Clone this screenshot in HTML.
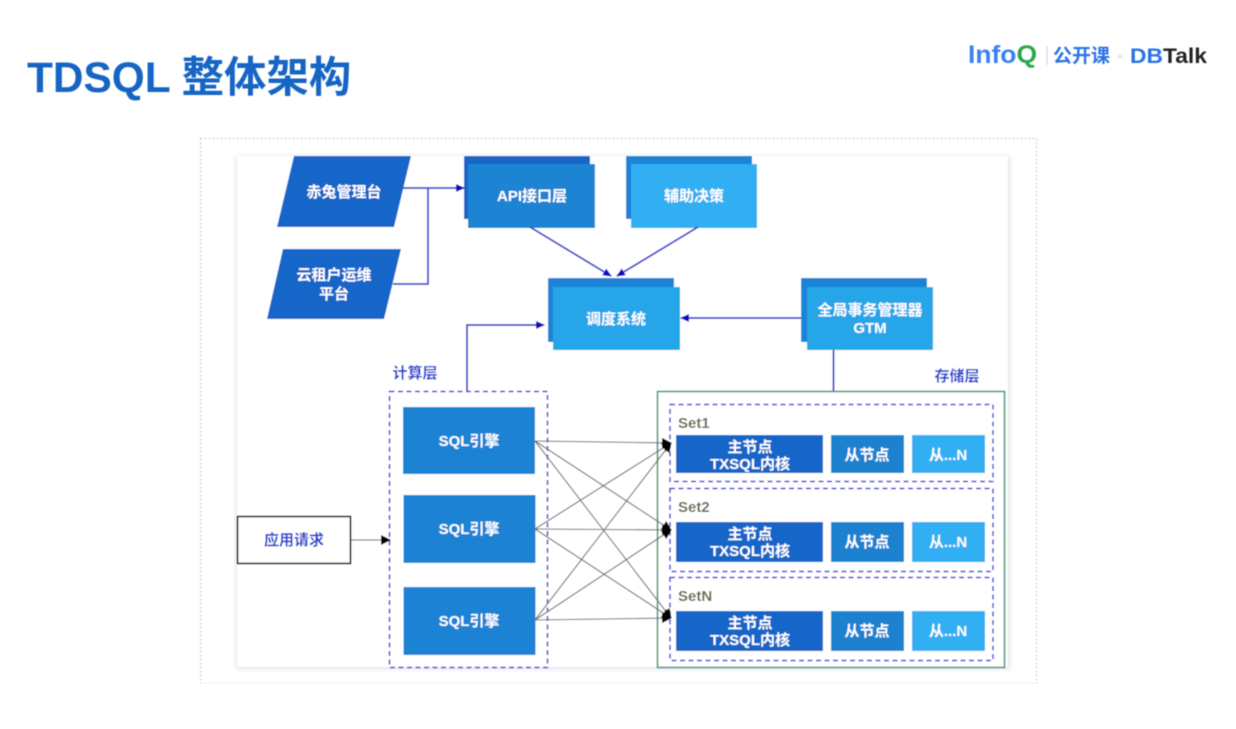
<!DOCTYPE html>
<html lang="zh">
<head>
<meta charset="utf-8">
<title>TDSQL 整体架构</title>
<style>
html,body{margin:0;padding:0;background:#fff;width:1236px;height:729px;overflow:hidden}
svg{display:block}
text{font-family:"Liberation Sans","Noto Sans CJK SC",sans-serif;font-weight:700;text-anchor:middle}
.w{fill:#fff;font-size:15px}
.b{fill:#1a3fd0;font-size:15px}
.s{fill:#6b6650;font-size:15px;text-anchor:start}
.bl{stroke:#3a3ad0;stroke-width:1.8;fill:none}
.m{stroke:#6e6e6e;stroke-width:1.1;fill:none}
.d{fill:none;stroke:#3c3cdc;stroke-width:1.5;stroke-dasharray:5 3.5}
</style>
</head>
<body>
<svg width="1236" height="729" viewBox="0 0 1236 729" xmlns="http://www.w3.org/2000/svg">
<defs>
<marker id="a" markerWidth="10" markerHeight="10" refX="8" refY="4" orient="auto" markerUnits="userSpaceOnUse"><path d="M0 0L9 4L0 8z" fill="#1010c0"/></marker>
<marker id="k" markerWidth="12" markerHeight="12" refX="9" refY="5" orient="auto" markerUnits="userSpaceOnUse"><path d="M0 0L10 5L0 10z" fill="#000"/></marker>
<filter id="sh" x="-2%" y="-2%" width="104%" height="104%"><feGaussianBlur stdDeviation="2"/></filter>
<filter id="soft" x="0" y="0" width="100%" height="100%"><feGaussianBlur stdDeviation="0.4"/></filter>
</defs>
<g filter="url(#soft)">
<text x="27" y="92" style="text-anchor:start;font-size:42.4px;fill:#1565c4">TDSQL 整体架构</text>

<text x="968" y="63" textLength="69" lengthAdjust="spacingAndGlyphs" style="text-anchor:start;font-size:25px;fill:#3b82f0">Info<tspan fill="#2aa84a">Q</tspan></text>
<line x1="1047" y1="46" x2="1047" y2="65" stroke="#c9d3de" stroke-width="1"/>
<text x="1053" y="62" textLength="57" lengthAdjust="spacingAndGlyphs" style="text-anchor:start;font-size:19px;fill:#2a72e6">公开课</text>
<text x="1120" y="60" style="font-size:10px;fill:#c8d0d8;font-weight:400">×</text>
<text x="1130" y="63" textLength="77" lengthAdjust="spacingAndGlyphs" style="text-anchor:start;font-size:21px;fill:#2a72e6">DB<tspan fill="#222">Talk</tspan></text>

<rect x="200.500" y="138.500" width="836" height="545" fill="#fff" stroke="#a9cdf0" stroke-width="1" stroke-dasharray="2 2"/>
<rect x="236" y="156" width="774" height="513" fill="#dfe4ec" filter="url(#sh)"/>
<rect x="237" y="156" width="771" height="511" fill="#fff"/>

<polygon points="294,156 411,156 394,227 277,227" fill="#1265c8"/>
<polygon points="283,249 401,249 384,319 267,319" fill="#1265c8"/>
<text class="w" x="344" y="197">赤兔管理台</text>
<text class="w" x="334" y="280">云租户运维</text>
<text class="w" x="334" y="299">平台</text>

<rect x="464" y="156" width="126" height="63" fill="#1265c8"/>
<rect x="468" y="164" width="127" height="64" fill="#1a84d2"/>
<text class="w" x="532" y="201">API接口层</text>

<rect x="626" y="156" width="126" height="63" fill="#1a84d6"/>
<rect x="631" y="164" width="126" height="64" fill="#33aef2"/>
<text class="w" x="694" y="201">辅助决策</text>

<rect x="548" y="278" width="126" height="64" fill="#1a84d6"/>
<rect x="553" y="287" width="127" height="63" fill="#25a5e8"/>
<text class="w" x="616" y="324">调度系统</text>

<rect x="801" y="278" width="126" height="64" fill="#1a84d6"/>
<rect x="807" y="287" width="126" height="63" fill="#25a5e8"/>
<text class="w" x="870" y="315">全局事务管理器</text>
<text class="w" x="870" y="333">GTM</text>

<path class="bl" d="M403 188H464" marker-end="url(#a)"/>
<path class="bl" d="M393 284H428V188"/>
<path class="bl" d="M530 227L611 276" marker-end="url(#a)"/>
<path class="bl" d="M698 227L617 276" marker-end="url(#a)"/>
<path class="bl" d="M801 318H681" marker-end="url(#a)"/>
<path class="bl" d="M833.500 350V391"/>
<path class="bl" d="M467 391V325H544" marker-end="url(#a)"/>

<text class="b" x="415" y="378">计算层</text>
<text class="b" x="957" y="381">存储层</text>

<rect class="d" x="389.500" y="391.500" width="158" height="276"/>
<rect x="403" y="407" width="132" height="67" fill="#1a82d4"/>
<rect x="403.500" y="495" width="132" height="68" fill="#1a82d4"/>
<rect x="403.500" y="587" width="132" height="68" fill="#1a82d4"/>
<text class="w" x="469" y="446">SQL引擎</text>
<text class="w" x="469" y="534">SQL引擎</text>
<text class="w" x="469" y="626">SQL引擎</text>

<rect x="237.500" y="516.500" width="113" height="47" fill="#fff" stroke="#333" stroke-width="1.8"/>
<text class="b" x="294" y="545">应用请求</text>
<path d="M351 540H390" stroke="#444" stroke-width="1" fill="none" marker-end="url(#k)"/>

<rect x="657.500" y="391.500" width="347" height="276" fill="none" stroke="#3f9a7b" stroke-width="1.6"/>
<rect class="d" x="670" y="404.500" width="323" height="77"/>
<rect class="d" x="670" y="488.500" width="323" height="83"/>
<rect class="d" x="670" y="577.500" width="323" height="83"/>

<text class="s" x="678" y="428">Set1</text>
<text class="s" x="678" y="512">Set2</text>
<text class="s" x="678" y="601">SetN</text>

<rect x="676" y="435" width="147" height="38" fill="#1265c8"/>
<rect x="831" y="435" width="73" height="38" fill="#1a82d0"/>
<rect x="912" y="435" width="73" height="38" fill="#31aef2"/>
<rect x="676" y="522" width="147" height="40" fill="#1265c8"/>
<rect x="831" y="522" width="73" height="40" fill="#1a82d0"/>
<rect x="912" y="522" width="73" height="40" fill="#31aef2"/>
<rect x="676" y="611" width="147" height="40" fill="#1265c8"/>
<rect x="831" y="611" width="73" height="40" fill="#1a82d0"/>
<rect x="912" y="611" width="73" height="40" fill="#31aef2"/>

<text class="w" x="750" y="452">主节点</text>
<text class="w" x="750" y="469">TXSQL内核</text>
<text class="w" x="867" y="460">从节点</text>
<text class="w" x="948" y="460">从...N</text>
<text class="w" x="750" y="539">主节点</text>
<text class="w" x="750" y="556">TXSQL内核</text>
<text class="w" x="867" y="547">从节点</text>
<text class="w" x="948" y="547">从...N</text>
<text class="w" x="750" y="628">主节点</text>
<text class="w" x="750" y="645">TXSQL内核</text>
<text class="w" x="867" y="636">从节点</text>
<text class="w" x="948" y="636">从...N</text>

<path class="m" d="M535 441L671 443" marker-end="url(#k)"/>
<path class="m" d="M535 441L671 530" marker-end="url(#k)"/>
<path class="m" d="M535 441L671 618" marker-end="url(#k)"/>
<path class="m" d="M535 529L671 443" marker-end="url(#k)"/>
<path class="m" d="M535 529L671 530" marker-end="url(#k)"/>
<path class="m" d="M535 529L671 618" marker-end="url(#k)"/>
<path class="m" d="M535 620L671 443" marker-end="url(#k)"/>
<path class="m" d="M535 620L671 530" marker-end="url(#k)"/>
<path class="m" d="M535 620L671 618" marker-end="url(#k)"/>
</g>
</svg>
</body>
</html>
